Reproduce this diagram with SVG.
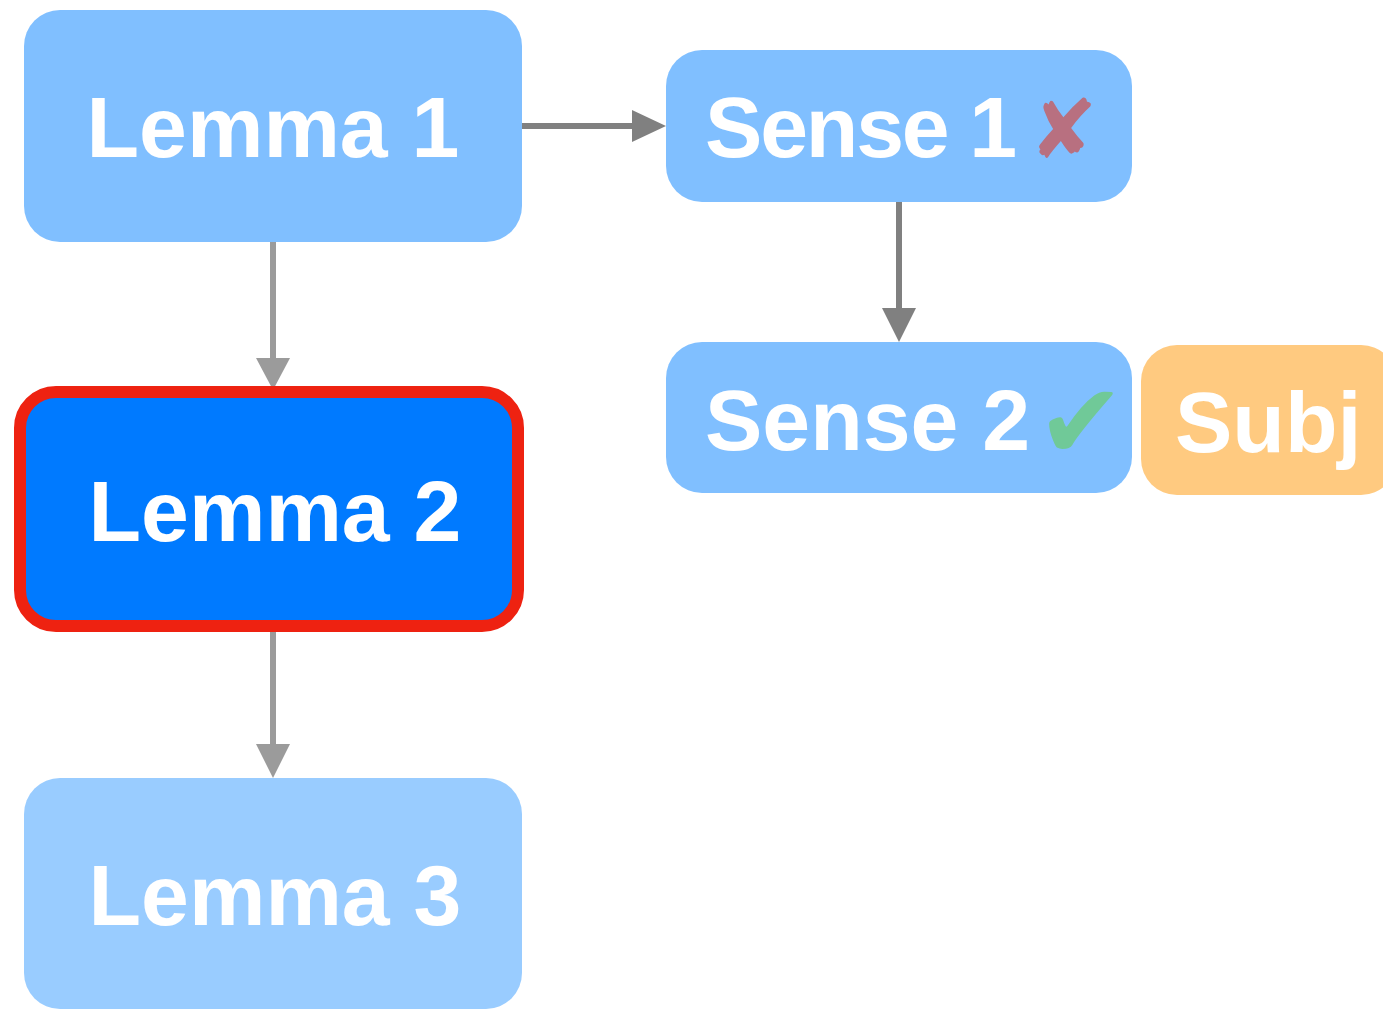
<svg xmlns="http://www.w3.org/2000/svg" width="1383" height="1009" viewBox="0 0 1383 1009">
<defs>
<style>
.lbl{font-family:"Liberation Sans",Arial,sans-serif;font-weight:bold;font-size:86px;fill:#ffffff;}
.sym{font-family:"DejaVu Sans",sans-serif;}
.c1{stroke:#808080;stroke-width:6;fill:none;}
.c2{stroke:#9b9b9b;stroke-width:6;fill:none;}
</style>
</defs>
<rect width="1383" height="1009" fill="#ffffff"/>
<g id="connectors">
<line class="c1" x1="522" y1="126" x2="634" y2="126"/>
<path d="M632,110 L666,126 L632,142 Z" fill="#808080"/>
<line class="c1" x1="899" y1="202" x2="899" y2="310"/>
<path d="M882,308 L899,342 L916,308 Z" fill="#808080"/>
<line class="c2" x1="273" y1="242" x2="273" y2="360"/>
<path d="M256,358 L273,390 L290,358 Z" fill="#9b9b9b"/>
<line class="c2" x1="273" y1="632" x2="273" y2="746"/>
<path d="M256,744 L273,778 L290,744 Z" fill="#9b9b9b"/>
</g>
<g id="lemma1">
<rect x="24" y="10" width="498" height="232" rx="36" fill="#80bfff"/>
<text class="lbl" x="273" y="157" text-anchor="middle">Lemma 1</text>
</g>
<g id="lemma2">
<rect x="20" y="392" width="498" height="234" rx="36" fill="#007aff" stroke="#ee2211" stroke-width="12"/>
<text class="lbl" x="275" y="541" text-anchor="middle">Lemma 2</text>
</g>
<g id="lemma3">
<rect x="24" y="778" width="498" height="231" rx="36" fill="#99ccff"/>
<text class="lbl" x="275" y="925" text-anchor="middle">Lemma 3</text>
</g>
<g id="sense1">
<rect x="666" y="50" width="466" height="152" rx="36" fill="#80bfff"/>
<text class="lbl" x="705" y="157" textLength="312" lengthAdjust="spacing">Sense 1</text>
<text class="sym" x="1029" y="158" font-size="82" fill="#b87080">✘</text>
</g>
<g id="sense2">
<rect x="666" y="342" width="466" height="151" rx="36" fill="#80bfff"/>
<text class="lbl" x="705" y="450">Sense 2</text>
<text class="sym" x="1037" y="458" font-size="105" fill="#70c998">✔</text>
</g>
<g id="subj">
<rect x="1141" y="345" width="256" height="150" rx="36" fill="#ffca80"/>
<text class="lbl" x="1175" y="452">Subj</text>
</g>
</svg>
